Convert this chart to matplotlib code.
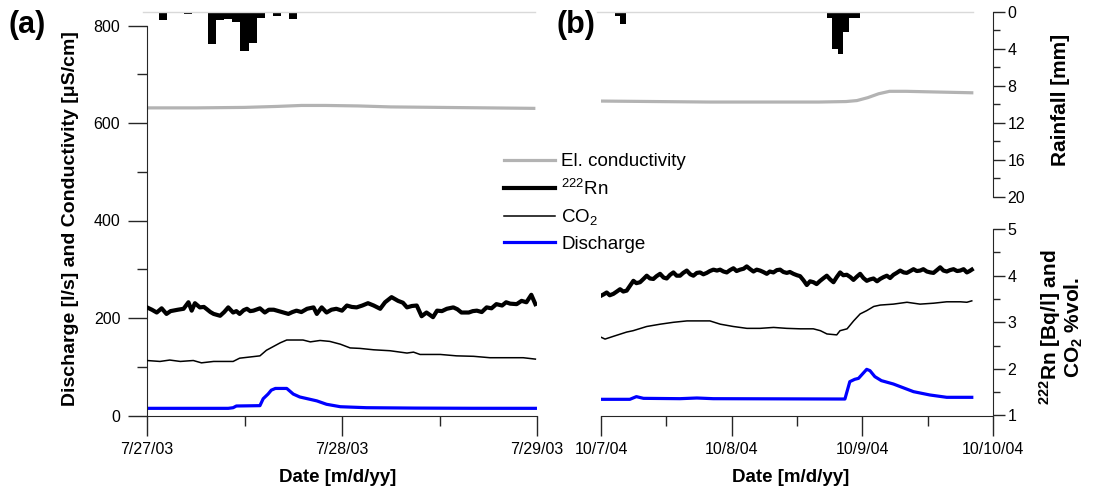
import matplotlib
matplotlib.use('Agg')
import matplotlib.pyplot as plt
from matplotlib.ticker import MultipleLocator, FixedLocator, NullLocator
from matplotlib.lines import Line2D

plt.rcParams['font.family'] = ['Liberation Sans', 'DejaVu Sans']
plt.rcParams['mathtext.fontset'] = 'custom'
plt.rcParams['mathtext.rm'] = 'Liberation Sans'
plt.rcParams['mathtext.it'] = 'Liberation Sans:italic'
plt.rcParams['mathtext.bf'] = 'Liberation Sans:bold'
plt.rcParams['mathtext.default'] = 'regular'

# ---------------- DATA ----------------
# Panel (a): hours since 7/27/03 00:00
a_tick_pos = [0, 24, 48]
a_tick_labels = ['7/27/03', '7/28/03', '7/29/03']
a_rain_h = [2, 5, 8, 9, 10, 11, 12, 13, 14, 15, 16, 17, 18, 19]
a_rain_mm = [0.9, 0.25, 3.5, 0.9, 0.8, 1.1, 4.2, 3.3, 0.6, 0.15, 0.45, 0.1, 0.8, 0.1]

a_ec_h = [0, 6, 12, 16, 19, 22, 26, 30, 36, 42, 47.8]
a_ec = [631, 631, 632, 634, 636, 636, 635, 633, 632, 631, 630]

a_rn_h = [0, 0.6, 1.2, 1.8, 2.4, 2.9, 3.2, 3.8, 4.5, 5.1,
          5.5, 5.9, 6.5, 7.0, 7.3, 7.8, 8.2, 9.0, 9.5, 10.0,
          10.6, 11.0, 11.4, 11.9, 12.3, 12.7, 13.1, 13.9, 14.5, 15.0,
          15.6, 16.2, 16.8, 17.4, 17.9, 18.4, 19.0, 19.7, 20.5, 20.9,
          21.5, 22.1, 22.7, 23.3, 24.0, 24.6, 25.2, 25.8, 26.5, 27.2,
          27.9, 28.7, 29.3, 30.1, 30.9, 31.5, 32.0, 32.6, 33.2, 33.8,
          34.4, 35.2, 35.7, 36.3, 36.9, 37.7, 38.2, 38.7, 39.6, 40.1,
          40.6, 41.2, 41.8, 42.4, 43.0, 43.7, 44.2, 44.7, 45.5, 46.1,
          46.7, 47.3, 47.8]
a_rn = [3.32, 3.27, 3.21, 3.30, 3.18, 3.24, 3.25, 3.27, 3.29, 3.43,
        3.25, 3.41, 3.32, 3.33, 3.29, 3.22, 3.18, 3.14, 3.22, 3.32,
        3.21, 3.24, 3.18, 3.26, 3.29, 3.24, 3.25, 3.30, 3.21, 3.27,
        3.27, 3.24, 3.21, 3.18, 3.22, 3.25, 3.22, 3.29, 3.32, 3.18,
        3.32, 3.21, 3.27, 3.29, 3.25, 3.36, 3.33, 3.32, 3.36, 3.41,
        3.36, 3.29, 3.43, 3.54, 3.46, 3.42, 3.32, 3.35, 3.36, 3.13,
        3.21, 3.11, 3.25, 3.24, 3.29, 3.32, 3.28, 3.21, 3.21, 3.24,
        3.25, 3.22, 3.32, 3.30, 3.39, 3.36, 3.43, 3.40, 3.39, 3.46,
        3.43, 3.59, 3.39]

a_co2_h = [0, 1.6, 2.8, 4.1, 5.7, 6.7, 8.2, 9.8, 10.6, 11.4,
           13.9, 14.7, 16.4, 17.2, 19.2, 20.1, 21.3, 22.5, 23.8, 25.0,
           26.2, 27.9, 29.9, 32.0, 32.8, 33.6, 36.1, 38.1, 40.2, 42.2,
           44.3, 46.3, 47.8]
a_co2 = [2.18, 2.16, 2.19, 2.16, 2.18, 2.13, 2.16, 2.16, 2.16, 2.23,
         2.28, 2.40, 2.56, 2.62, 2.62, 2.58, 2.61, 2.59, 2.53, 2.45,
         2.44, 2.41, 2.39, 2.34, 2.36, 2.31, 2.31, 2.28, 2.27, 2.24,
         2.24, 2.24, 2.21]

a_q_h = [0, 10.0, 10.6, 11.0, 13.9, 14.3, 14.9, 15.3, 15.8, 17.2,
         18.0, 18.8, 20.9, 22.1, 23.8, 27.0, 33.0, 40.0, 47.8]
a_q = [14.7, 14.7, 16.0, 19.5, 20.2, 34.4, 44.0, 52.0, 55.5, 55.5,
       44.0, 38.0, 30.0, 23.0, 18.0, 16.0, 15.2, 14.8, 14.7]

# Panel (b): hours since 10/7/04 00:00
b_tick_pos = [0, 24, 48, 72]
b_tick_labels = ['10/7/04', '10/8/04', '10/9/04', '10/10/04']
b_rain_h = [3, 4, 7, 14, 15, 21, 33, 42, 43, 44, 45, 46, 47]
b_rain_mm = [0.4, 1.3, 0.1, 0.1, 0.1, 0.1, 0.1, 0.6, 4.0, 4.5, 2.2, 0.6, 0.6]

b_ec_h = [0, 10, 20, 30, 40, 45, 47, 49, 51, 53, 56, 60, 64, 68.1]
b_ec = [645, 644, 643, 643, 643, 644, 646, 652, 660, 665, 665, 664, 663, 662]

b_rn_h = [0, 0.5, 1.05, 1.6, 2.27, 2.9, 3.5, 4.1, 4.72, 5.3,
          5.95, 6.5, 7.17, 7.8, 8.4, 9.0, 9.62, 10.2, 10.85, 11.5,
          12.07, 12.7, 13.3, 13.9, 14.52, 15.1, 15.75, 16.4, 16.97, 17.6,
          18.2, 18.8, 19.42, 20.0, 20.65, 21.3, 21.87, 22.5, 23.1, 23.7,
          24.32, 24.9, 25.55, 26.2, 26.77, 27.4, 28.0, 28.6, 29.22, 29.8,
          30.45, 31.0, 31.67, 32.3, 32.9, 33.5, 34.12, 34.7, 35.35, 36.0,
          36.57, 37.2, 37.8, 38.4, 39.02, 39.6, 40.25, 40.9, 41.47, 42.1,
          42.7, 43.3, 43.92, 44.5, 45.15, 45.8, 46.37, 47.0, 47.6, 48.2,
          48.82, 49.4, 50.05, 50.7, 51.27, 51.9, 52.5, 53.1, 53.72, 54.3,
          54.95, 55.6, 56.17, 56.8, 57.4, 58.0, 58.62, 59.2, 59.85, 60.5,
          61.07, 61.7, 62.3, 62.9, 63.52, 64.1, 64.75, 65.4, 65.97, 66.6,
          67.2, 67.7, 68.1]
b_rn = [3.57, 3.60, 3.64, 3.58, 3.61, 3.66, 3.71, 3.66, 3.68, 3.78,
        3.89, 3.84, 3.86, 3.93, 4.00, 3.94, 3.93, 3.99, 4.04, 3.96,
        3.94, 4.02, 4.07, 4.00, 4.00, 4.06, 4.11, 4.03, 4.00, 4.06,
        4.07, 4.03, 4.06, 4.10, 4.13, 4.11, 4.13, 4.09, 4.07, 4.12,
        4.16, 4.10, 4.13, 4.15, 4.20, 4.14, 4.09, 4.13, 4.11, 4.08,
        4.04, 4.09, 4.07, 4.12, 4.13, 4.08, 4.06, 4.08, 4.04, 4.01,
        3.99, 3.90, 3.80, 3.88, 3.86, 3.82, 3.89, 3.95, 4.00, 3.92,
        3.86, 3.97, 4.07, 4.01, 4.02, 3.97, 3.91, 3.98, 4.04, 3.95,
        3.89, 3.92, 3.94, 3.88, 3.93, 3.97, 4.00, 3.95, 4.02, 4.06,
        4.11, 4.07, 4.06, 4.10, 4.14, 4.10, 4.11, 4.14, 4.09, 4.07,
        4.06, 4.12, 4.18, 4.11, 4.09, 4.12, 4.14, 4.10, 4.11, 4.14,
        4.07, 4.10, 4.13]

b_co2_h = [0, 0.74, 2.3, 4.7, 5.9, 8.4, 10.9, 13.3, 15.8, 18.2,
           20.0, 21.9, 24.3, 26.8, 29.2, 31.7, 34.1, 36.6, 39.0, 40.3,
           41.5, 43.3, 43.9, 45.2, 46.4, 47.6, 48.8, 50.1, 51.3, 53.7,
           56.2, 58.6, 61.1, 63.5, 66.0, 67.2, 68.1]
b_co2 = [2.68, 2.64, 2.70, 2.79, 2.82, 2.91, 2.96, 3.00, 3.03, 3.03,
         3.03, 2.96, 2.91, 2.87, 2.87, 2.89, 2.87, 2.86, 2.86, 2.82,
         2.75, 2.73, 2.82, 2.86, 3.03, 3.18, 3.25, 3.34, 3.37, 3.39,
         3.43, 3.39, 3.41, 3.44, 3.44, 3.43, 3.46]

b_q_h = [0, 5.3, 6.5, 7.8, 14.5, 17.6, 20.6, 44.8, 45.7, 46.6,
         47.3, 48.8, 49.4, 50.3, 51.5, 53.7, 57.4, 60.4, 63.5, 68.1]
b_q = [33.2, 33.2, 38.7, 35.2, 34.5, 35.9, 34.5, 33.8, 69.4, 74.2,
       76.2, 94.7, 92.0, 79.7, 71.5, 64.6, 48.9, 42.1, 37.3, 37.3]

series_labels = ['El. conductivity', '$^{222}$Rn', 'CO$_2$', 'Discharge']

# ---------------- STYLE / LAYOUT ----------------
W, H = 1094, 492
fig = plt.figure(figsize=(W / 100, H / 100), dpi=100)
EC_COL = '#b3b3b3'
Q_COL = '#0000ff'
AX_COL = '#262626'
TICK_FS = 11.5

Y_TOP, Y_BOT = 12.0, 415.5
PX_PER_MAIN = 390.0 / 800.0
PX_PER_RAIN = 9.25
PX_PER_RN = 46.6
main_top = (Y_BOT - Y_TOP) / PX_PER_MAIN
rain_bot = (Y_BOT - Y_TOP) / PX_PER_RAIN
rn_top = 1 + (Y_BOT - Y_TOP) / PX_PER_RN


def rect(x0, x1):
    return [x0 / W, 1 - Y_BOT / H, (x1 - x0) / W, (Y_BOT - Y_TOP) / H]


def build_panel(x0, x1, xmax, ticks, tlabels, data_end, show_right):
    ax = fig.add_axes(rect(x0, x1))
    ax.set_xlim(0, xmax)
    ax.set_ylim(0, main_top)
    ax.patch.set_alpha(0)
    for s in ['top', 'right']:
        ax.spines[s].set_visible(False)
    ax.spines['bottom'].set_color(AX_COL)
    ax.spines['left'].set_color(AX_COL)
    ax.xaxis.set_major_locator(FixedLocator(ticks))
    ax.set_xticklabels(tlabels)
    ax.xaxis.set_minor_locator(MultipleLocator(12))
    ax.tick_params(axis='x', which='major', direction='out', length=14.4, width=1,
                   color=AX_COL, pad=5, labelsize=TICK_FS)
    ax.tick_params(axis='x', which='minor', direction='out', length=7.2, width=1,
                   color=AX_COL)
    if show_right:
        ax.spines['left'].set_visible(False)
        ax.yaxis.set_major_locator(NullLocator())
        ax.yaxis.set_minor_locator(NullLocator())
    else:
        ax.spines['left'].set_bounds(0, 800)
        ax.yaxis.set_major_locator(MultipleLocator(200))
        ax.yaxis.set_minor_locator(MultipleLocator(100))
        ax.set_yticks([0, 200, 400, 600, 800])
        ax.tick_params(axis='y', which='major', direction='out', length=13.7, width=1,
                       color=AX_COL, pad=5.5, labelsize=TICK_FS)
        ax.tick_params(axis='y', which='minor', direction='out', length=7, width=1,
                       color=AX_COL)

    # rainfall axis (inverted, hanging from top)
    axr = ax.twinx()
    axr.set_ylim(rain_bot, 0)
    axr.set_xlim(0, xmax)
    axr.patch.set_alpha(0)
    for s in ['top', 'left', 'bottom']:
        axr.spines[s].set_visible(False)
    axr.axhline(0, xmin=-0.01, xmax=data_end, color='#d9d9d9', lw=1, clip_on=False)

    # radon / co2 axis
    axn = ax.twinx()
    axn.set_ylim(1, rn_top)
    axn.set_xlim(0, xmax)
    axn.patch.set_alpha(0)
    for s in ['top', 'left', 'bottom']:
        axn.spines[s].set_visible(False)

    if show_right:
        axr.spines['right'].set_bounds(0, 20)
        axr.spines['right'].set_color(AX_COL)
        axr.set_yticks([0, 4, 8, 12, 16, 20])
        axr.yaxis.set_minor_locator(FixedLocator([2, 6, 10, 14, 18]))
        axr.tick_params(axis='y', which='major', direction='out', length=8.6, width=1,
                        color=AX_COL, pad=2, labelsize=TICK_FS)
        axr.tick_params(axis='y', which='minor', direction='out', length=5, width=1,
                        color=AX_COL)
        axn.spines['right'].set_bounds(1, 5)
        axn.spines['right'].set_color(AX_COL)
        axn.set_yticks([1, 2, 3, 4, 5])
        axn.yaxis.set_minor_locator(FixedLocator([1.5, 2.5, 3.5, 4.5]))
        axn.tick_params(axis='y', which='major', direction='out', length=8.6, width=1,
                        color=AX_COL, pad=2, labelsize=TICK_FS)
        axn.tick_params(axis='y', which='minor', direction='out', length=5, width=1,
                        color=AX_COL)
    else:
        for a in (axr, axn):
            a.spines['right'].set_visible(False)
            a.yaxis.set_major_locator(NullLocator())
            a.yaxis.set_minor_locator(NullLocator())
    return ax, axr, axn


# Panel (a)
ax_a, ax_a_rain, ax_a_rn = build_panel(147, 537, 48, a_tick_pos, a_tick_labels,
                                       (535 - 147) / 390, False)
ax_a_rain.bar(a_rain_h, a_rain_mm, width=1.0, color='black', linewidth=0)
ax_a.plot(a_ec_h, a_ec, color=EC_COL, lw=2.3, solid_capstyle='butt')
ax_a.plot(a_q_h, a_q, color=Q_COL, lw=2.3)
ax_a_rn.plot(a_co2_h, a_co2, color='black', lw=1.1)
ax_a_rn.plot(a_rn_h, a_rn, color='black', lw=3.0)

# Panel (b)
ax_b, ax_b_rain, ax_b_rn = build_panel(601, 993, 72, b_tick_pos, b_tick_labels,
                                       (973 - 601) / 392, True)
ax_b_rain.bar(b_rain_h, b_rain_mm, width=1.0, color='black', linewidth=0)
ax_b.plot(b_ec_h, b_ec, color=EC_COL, lw=2.3)
ax_b.plot(b_q_h, b_q, color=Q_COL, lw=2.3)
ax_b_rn.plot(b_co2_h, b_co2, color='black', lw=1.1)
ax_b_rn.plot(b_rn_h, b_rn, color='black', lw=3.0)

# Legend
handles = [Line2D([], [], color=EC_COL, lw=2.3),
           Line2D([], [], color='black', lw=3.0),
           Line2D([], [], color='black', lw=1.1),
           Line2D([], [], color=Q_COL, lw=2.3)]
fig.legend(handles, series_labels, loc='upper left',
           bbox_to_anchor=(504 / W, 1 - 153 / H), frameon=False, fontsize=13.5,
           handlelength=2.7, handletextpad=0.35, labelspacing=0.45,
           borderpad=0, borderaxespad=0)

# Texts
fig.text(8 / W, 1 - 25 / H, '(a)', fontsize=22, fontweight='bold', ha='left', va='center')
fig.text(557 / W, 1 - 25 / H, '(b)', fontsize=22, fontweight='bold', ha='left', va='center')
fig.text(71 / W, 1 - 219 / H, 'Discharge [l/s] and Conductivity [\u03bcS/cm]', rotation=90,
         fontsize=14, fontweight='bold', ha='center', va='center')
fig.text(338 / W, 1 - 478 / H, 'Date [m/d/yy]', fontsize=13.5, fontweight='bold',
         ha='center', va='center')
fig.text(791 / W, 1 - 478 / H, 'Date [m/d/yy]', fontsize=13.5, fontweight='bold',
         ha='center', va='center')
fig.text(1060 / W, 1 - 100 / H, 'Rainfall [mm]', rotation=90, fontsize=15,
         fontweight='bold', ha='center', va='center')
fig.text(1061 / W, 1 - 327 / H, '$\\mathbf{^{222}}$Rn [Bq/l] and\nCO$\\mathbf{_2}$ %vol.',
         rotation=90, fontsize=15, fontweight='bold', ha='center', va='center',
         multialignment='center', linespacing=1.0)

fig.savefig('out.png', dpi=100)
